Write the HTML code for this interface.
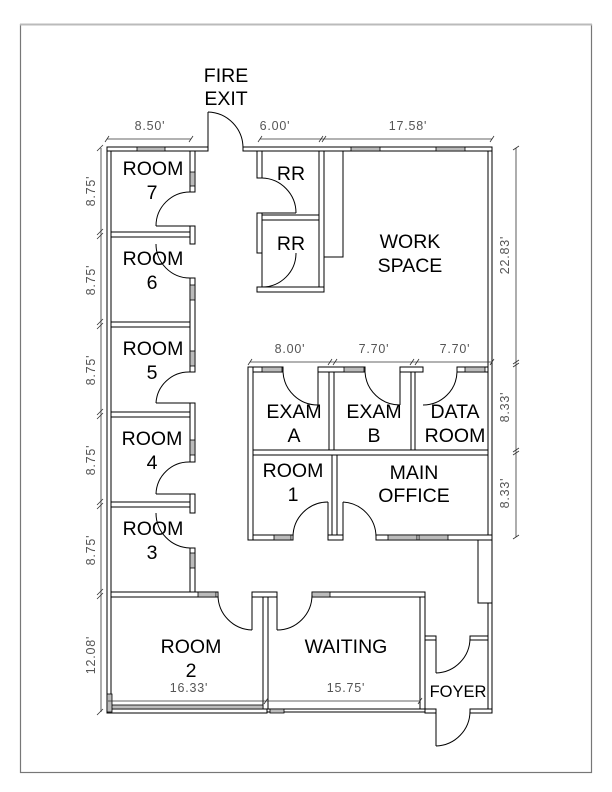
<!DOCTYPE html>
<html><head><meta charset="utf-8"><style>
html,body{margin:0;padding:0;background:#fff}
svg{display:block}
.t{font-family:"Liberation Sans",Arial,sans-serif;font-size:19.5px;fill:#000;text-anchor:middle}
.d{font-family:"Liberation Sans",Arial,sans-serif;font-size:12.5px;letter-spacing:0.8px;fill:#555;text-anchor:middle}
.w{fill:#fff;stroke:#000;stroke-width:1}
.g{fill:#bbb;stroke:#000;stroke-width:0.8}
.a{fill:none;stroke:#000;stroke-width:1}
.dl{stroke:#333;stroke-width:0.8;fill:none}
</style></head><body>
<svg width="612" height="792" viewBox="0 0 612 792" xmlns="http://www.w3.org/2000/svg">
<rect x="20.5" y="24.5" width="571" height="748" fill="none" stroke="#777" stroke-width="1.2"/>
<line x1="20" y1="24.5" x2="592" y2="24.5" stroke="#bbb" stroke-width="2"/>

<rect class="w" x="107" y="147" width="4" height="566"/>
<rect class="w" x="488" y="147" width="4" height="566"/>
<rect class="w" x="107" y="147" width="101" height="4"/>
<rect class="w" x="243" y="147" width="249" height="4"/>
<rect class="w" x="107" y="709" width="160" height="4"/>
<rect class="w" x="267" y="709" width="158" height="3"/>
<rect class="w" x="425" y="709" width="11" height="4"/>
<rect class="w" x="470" y="709" width="22" height="4"/>

<rect class="w" x="190" y="151" width="5" height="41"/>
<rect class="w" x="190" y="226" width="5" height="18"/>
<rect class="w" x="190" y="278" width="5" height="94"/>
<rect class="w" x="190" y="403" width="5" height="59"/>
<rect class="w" x="190" y="494" width="5" height="19"/>
<rect class="w" x="190" y="548" width="5" height="47"/>
<rect class="w" x="111" y="232" width="79" height="5"/>
<rect class="w" x="111" y="322" width="79" height="5"/>
<rect class="w" x="111" y="412" width="79" height="5"/>
<rect class="w" x="111" y="502" width="79" height="5"/>
<rect class="w" x="111" y="592" width="107" height="5"/>
<rect class="w" x="252" y="592" width="25" height="5"/>
<rect class="w" x="312" y="592" width="113" height="5"/>
<rect class="w" x="263" y="597" width="5" height="112"/>
<rect class="w" x="420" y="597" width="5" height="112"/>
<rect class="w" x="425" y="636" width="11" height="4"/>
<rect class="w" x="470" y="636" width="18" height="4"/>

<rect class="w" x="257" y="151" width="5" height="27"/>
<rect class="w" x="257" y="213" width="5" height="40"/>
<rect class="w" x="319" y="151" width="5" height="141"/>
<rect class="w" x="262" y="215" width="57" height="5"/>
<rect class="w" x="257" y="287" width="67" height="5"/>
<rect class="w" x="324" y="151" width="19" height="106"/>

<rect class="w" x="248" y="367" width="5" height="173"/>
<rect class="w" x="253" y="367" width="30" height="5"/>
<rect class="w" x="318" y="367" width="47" height="5"/>
<rect class="w" x="400" y="367" width="23" height="5"/>
<rect class="w" x="457" y="367" width="31" height="5"/>
<rect class="w" x="329" y="372" width="5" height="80"/>
<rect class="w" x="411" y="372" width="4" height="80"/>
<rect class="w" x="253" y="450" width="235" height="5"/>
<rect class="w" x="332" y="455" width="5" height="83"/>
<rect class="w" x="253" y="535" width="40" height="5"/>
<rect class="w" x="328" y="535" width="15" height="5"/>
<rect class="w" x="376" y="535" width="116" height="5"/>
<rect class="w" x="478" y="540" width="14" height="63"/>

<rect class="g" x="137" y="147" width="28" height="4"/>
<rect class="g" x="351" y="147" width="29" height="4"/>
<rect class="g" x="436" y="147" width="29" height="4"/>
<rect class="g" x="190" y="172" width="5" height="14"/>
<rect class="g" x="190" y="285" width="5" height="15"/>
<rect class="g" x="190" y="351" width="5" height="15"/>
<rect class="g" x="190" y="440" width="5" height="15"/>
<rect class="g" x="190" y="553" width="5" height="15"/>
<rect class="g" x="262" y="367" width="20" height="5"/>
<rect class="g" x="344" y="367" width="20" height="5"/>
<rect class="g" x="465" y="367" width="20" height="5"/>
<rect class="g" x="274" y="535" width="17" height="5"/>
<rect class="g" x="388" y="535" width="29" height="5"/>
<rect class="g" x="419" y="535" width="29" height="5"/>
<rect class="g" x="198" y="592" width="18" height="5"/>
<rect class="g" x="312" y="592" width="18" height="5"/>
<rect class="g" x="110" y="705" width="153" height="4"/>
<rect class="g" x="107" y="694" width="5" height="18"/>
<rect class="g" x="270" y="709" width="14" height="4"/>

<g class="a">
<line x1="208" y1="112" x2="208" y2="150"/><path d="M208,112 A36,36 0 0 1 243,148"/>
<line x1="156" y1="226" x2="190" y2="226"/><path d="M190,192 A34,34 0 0 0 156,226"/>
<path d="M156,244 A34,34 0 0 0 190,278"/>
<line x1="156" y1="403" x2="190" y2="403"/><path d="M190,372 A33,33 0 0 0 156,403"/>
<line x1="156" y1="494" x2="190" y2="494"/><path d="M190,462 A33,33 0 0 0 156,494"/>
<path d="M156,513 A35,35 0 0 0 190,548"/>
<line x1="262" y1="213" x2="296" y2="213"/><path d="M262,178 A35,35 0 0 1 296,213"/>
<line x1="262" y1="287" x2="262" y2="253"/><path d="M296,253 A34,34 0 0 1 262,287"/>
<line x1="318" y1="372" x2="318" y2="405"/><path d="M283,372 A35,35 0 0 0 318,405"/>
<line x1="400" y1="372" x2="400" y2="405"/><path d="M365,372 A35,35 0 0 0 400,405"/>
<path d="M457,372 A34,34 0 0 1 423,405"/>
<line x1="328" y1="502" x2="328" y2="537"/><path d="M293,537 A35,35 0 0 1 328,502"/>
<line x1="343" y1="502" x2="343" y2="537"/><path d="M343,502 A35,35 0 0 1 376,537"/>
<line x1="252" y1="595" x2="252" y2="630"/><path d="M218,595 A35,35 0 0 0 252,630"/>
<line x1="277" y1="595" x2="277" y2="630"/><path d="M312,595 A35,35 0 0 1 277,630"/>
<line x1="436" y1="636" x2="436" y2="673"/><path d="M436,673 A35,35 0 0 0 470,638"/>
<line x1="436" y1="711" x2="436" y2="746"/><path d="M436,746 A35,35 0 0 0 470,711"/>
</g>

<g class="dl">
<line x1="107" y1="139" x2="191" y2="139"/><line x1="105" y1="142" x2="109" y2="136"/><line x1="189" y1="142" x2="193" y2="136"/>
<line x1="260" y1="139" x2="492" y2="139"/><line x1="258" y1="142" x2="262" y2="136"/><line x1="319" y1="142" x2="323" y2="136"/><line x1="322" y1="142" x2="326" y2="136"/><line x1="490" y1="142" x2="494" y2="136"/>
<line x1="516" y1="148" x2="516" y2="537"/><line x1="513" y1="150" x2="519" y2="146"/><line x1="513" y1="364" x2="519" y2="360"/><line x1="513" y1="367" x2="519" y2="363"/><line x1="513" y1="452" x2="519" y2="448"/><line x1="513" y1="455" x2="519" y2="451"/><line x1="513" y1="539" x2="519" y2="535"/>
<line x1="250" y1="362" x2="492" y2="362"/><line x1="248" y1="365" x2="252" y2="359"/><line x1="328" y1="365" x2="332" y2="359"/><line x1="333" y1="365" x2="337" y2="359"/><line x1="410" y1="365" x2="414" y2="359"/><line x1="415" y1="365" x2="419" y2="359"/><line x1="490" y1="365" x2="494" y2="359"/>
<line x1="101" y1="148" x2="101" y2="712"/>
<line x1="97" y1="235" x2="103" y2="229"/><line x1="97" y1="239" x2="103" y2="233"/>
<line x1="97" y1="325" x2="103" y2="319"/><line x1="97" y1="329" x2="103" y2="323"/>
<line x1="97" y1="415" x2="103" y2="409"/><line x1="97" y1="419" x2="103" y2="413"/>
<line x1="97" y1="505" x2="103" y2="499"/><line x1="97" y1="509" x2="103" y2="503"/>
<line x1="97" y1="595" x2="103" y2="589"/><line x1="97" y1="599" x2="103" y2="593"/>
<line x1="97" y1="715" x2="103" y2="709"/><line x1="97" y1="151" x2="103" y2="145"/>
<line x1="108" y1="701" x2="420" y2="701"/><line x1="264" y1="704" x2="268" y2="698"/><line x1="418" y1="704" x2="422" y2="698"/>
</g>
<text class="d" x="150" y="130">8.50'</text>
<text class="d" x="275" y="130">6.00'</text>
<text class="d" x="408" y="130">17.58'</text>
<text class="d" x="290" y="353">8.00'</text>
<text class="d" x="374" y="353">7.70'</text>
<text class="d" x="455" y="353">7.70'</text>
<text class="d" x="189" y="692">16.33'</text>
<text class="d" x="346" y="692">15.75'</text>
<g class="d">
<text transform="translate(95,191) rotate(-90)">8.75'</text>
<text transform="translate(95,280) rotate(-90)">8.75'</text>
<text transform="translate(95,370) rotate(-90)">8.75'</text>
<text transform="translate(95,460) rotate(-90)">8.75'</text>
<text transform="translate(95,550) rotate(-90)">8.75'</text>
<text transform="translate(95,655) rotate(-90)">12.08'</text>
<text transform="translate(509,255) rotate(-90)">22.83'</text>
<text transform="translate(509,407) rotate(-90)">8.33'</text>
<text transform="translate(509,493) rotate(-90)">8.33'</text>
</g>

<text class="t" x="226" y="82">FIRE</text>
<text class="t" x="226" y="105">EXIT</text>
<text class="t" x="153" y="175">ROOM</text><text class="t" x="152" y="199">7</text>
<text class="t" x="153" y="265">ROOM</text><text class="t" x="152" y="289">6</text>
<text class="t" x="153" y="355">ROOM</text><text class="t" x="152" y="379">5</text>
<text class="t" x="152" y="445">ROOM</text><text class="t" x="152" y="469">4</text>
<text class="t" x="153" y="535">ROOM</text><text class="t" x="152" y="559">3</text>
<text class="t" x="291" y="180">RR</text>
<text class="t" x="291" y="250">RR</text>
<text class="t" x="410" y="248">WORK</text><text class="t" x="410" y="272">SPACE</text>
<text class="t" x="294" y="418">EXAM</text><text class="t" x="294" y="442">A</text>
<text class="t" x="374" y="418">EXAM</text><text class="t" x="374" y="442">B</text>
<text class="t" x="455" y="418">DATA</text><text class="t" x="455" y="442">ROOM</text>
<text class="t" x="293" y="477">ROOM</text><text class="t" x="293" y="501">1</text>
<text class="t" x="414" y="479">MAIN</text><text class="t" x="414" y="502">OFFICE</text>
<text class="t" x="191" y="653">ROOM</text><text class="t" x="191" y="677">2</text>
<text class="t" x="346" y="653">WAITING</text>
<text class="t" x="458" y="697" style="font-size:16.5px">FOYER</text>
</svg>
</body></html>
